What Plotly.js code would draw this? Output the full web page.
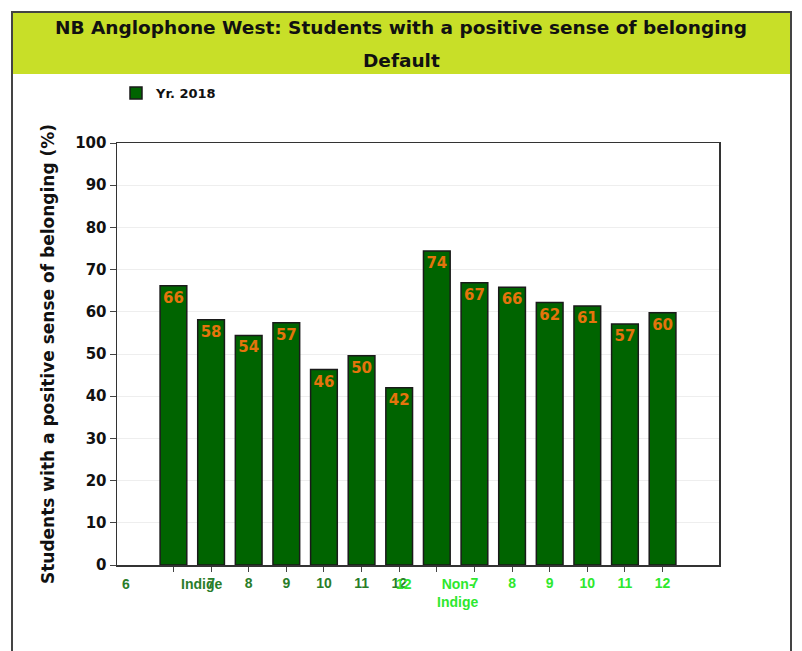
<!DOCTYPE html>
<html><head><meta charset="utf-8">
<script src="https://cdn.plot.ly/plotly-3.0.1.min.js"></script>
<style>html,body{margin:0;padding:0;background:#fff}#chart{width:802px;height:651px}</style>
</head><body><div id="chart"></div>
<script>
// ---- data ----
const barSlots = [1, 2, 3, 4, 5, 6, 7, 8, 9, 10, 11, 12, 13, 14];
const values = [66.2, 58.1, 54.4, 57.4, 46.3, 49.6, 42.0, 74.4, 66.9, 65.8, 62.2, 61.4, 57.1, 59.8];
const tickLabels = ["", "7", "8", "9", "10", "11", "12", "", "7", "8", "9", "10", "11", "12"];
const tickGroups = ["Indige", "Indige", "Indige", "Indige", "Indige", "Indige", "Indige",
                    "Non-Indige", "Non-Indige", "Non-Indige", "Non-Indige", "Non-Indige", "Non-Indige", "Non-Indige"];
const seriesName = "Yr. 2018";
const chartTitle = "NB Anglophone West: Students with a positive sense of belonging";
const chartSubtitle = "Default";
const yTitle = "Students with a positive sense of belonging (%)";
const yTicks = [0, 10, 20, 30, 40, 50, 60, 70, 80, 90, 100];

// ---- styling ----
const groupColor = {"Indige": "#2a7d2a", "Non-Indige": "#2ee82e"};
const WIDE = "DejaVu Sans, Verdana, sans-serif";
const NARROW = "Liberation Sans, Arial, sans-serif";

const L = 117, R = 83, T = 143, B = 86, W = 802, H = 651;
const pw = W - L - R, ph = H - T - B;
const px2paperX = p => (p - L) / pw;
const px2paperY = p => (H - B - p) / ph;

const ticktext = tickLabels.map((t, i) =>
  t ? `<span style="color:${groupColor[tickGroups[i]]}">${t}</span>` : "");

const trace = {
  type: "bar",
  x: barSlots,
  y: values,
  name: seriesName,
  width: 0.71,
  marker: {color: "#006400", line: {color: "#1a1a1a", width: 1.5}},
  texttemplate: "%{y:.0f}",
  textposition: "inside",
  insidetextanchor: "end",
  constraintext: "none",
  textangle: 0,
  textfont: {family: WIDE, size: 15, color: "#e4740c", weight: "bold"},
  showlegend: true,
  hoverinfo: "skip"
};

const labelFont = c => ({family: NARROW, size: 14, color: c, weight: "bold"});
const annotations = [
  {text: chartSubtitle, xref: "paper", yref: "paper", x: px2paperX(401), xanchor: "center",
   y: px2paperY(60), yanchor: "middle", showarrow: false,
   font: {family: WIDE, size: 18.5, color: "#111", weight: "bold"}},
  {text: "6", xref: "x", yref: "paper", x: -0.26, y: 0, yanchor: "top", yshift: -9, showarrow: false,
   font: labelFont(groupColor["Indige"])},
  {text: tickGroups[0], xref: "x", yref: "paper", x: 1.74, y: 0, yanchor: "top", yshift: -9, showarrow: false,
   font: labelFont(groupColor["Indige"])},
  {text: "12", xref: "x", yref: "paper", x: 7.14, y: 0, yanchor: "top", yshift: -9, showarrow: false,
   font: labelFont(groupColor["Non-Indige"])},
  {text: "Non-<br>Indige", xref: "x", yref: "paper", x: 8.56, y: 0, yanchor: "top", yshift: -9, showarrow: false,
   align: "center", font: labelFont(groupColor["Non-Indige"])}
];

const layout = {
  width: W, height: H,
  margin: {l: L, r: R, t: T, b: B, pad: 0},
  paper_bgcolor: "#ffffff",
  plot_bgcolor: "#ffffff",
  font: {family: WIDE, color: "#111"},
  title: {text: chartTitle, x: 401 / W, xanchor: "center", xref: "container", yref: "container",
          y: 1 - 28 / H, yanchor: "middle",
          font: {family: WIDE, size: 18.5, color: "#111", weight: "bold"}},
  showlegend: true,
  legend: {orientation: "h", x: px2paperX(116), xanchor: "left", y: px2paperY(78), yanchor: "top",
           font: {family: WIDE, size: 13, color: "#111", weight: "bold"},
           bgcolor: "rgba(0,0,0,0)", itemwidth: 30},
  xaxis: {
    range: [-0.5, 15.5], tickmode: "array", tickvals: barSlots, ticktext: ticktext,
    ticks: "outside", ticklen: 5, tickcolor: "#444", tickwidth: 1,
    showgrid: false, zeroline: false,
    showline: true, linecolor: "#333", linewidth: 1.5, mirror: true,
    tickfont: {family: NARROW, size: 14, weight: "bold"},
    automargin: false, fixedrange: true
  },
  yaxis: {
    range: [0, 100], tickmode: "array", tickvals: yTicks,
    ticks: "outside", ticklen: 6, tickcolor: "#444", tickwidth: 1,
    showgrid: true, gridcolor: "#eeeeee", gridwidth: 1, zeroline: false,
    showline: true, linecolor: "#333", linewidth: 1.5, mirror: true,
    tickfont: {family: WIDE, size: 15, color: "#111", weight: "bold"},
    title: {text: yTitle, standoff: 16, font: {family: WIDE, size: 17, color: "#111", weight: "bold"}},
    automargin: false, fixedrange: true
  },
  shapes: [
    {type: "rect", xref: "paper", yref: "paper", layer: "below",
     x0: px2paperX(12), x1: px2paperX(791), y0: px2paperY(74), y1: px2paperY(12),
     fillcolor: "#c8df28", line: {width: 0}},
    {type: "rect", xref: "paper", yref: "paper", layer: "above",
     x0: px2paperX(12), x1: px2paperX(791), y0: px2paperY(680), y1: px2paperY(12),
     fillcolor: "rgba(0,0,0,0)", line: {color: "#444", width: 2}}
  ],
  annotations: annotations
};

Plotly.newPlot("chart", [trace], layout, {displayModeBar: false, staticPlot: true});
</script>
</body></html>
